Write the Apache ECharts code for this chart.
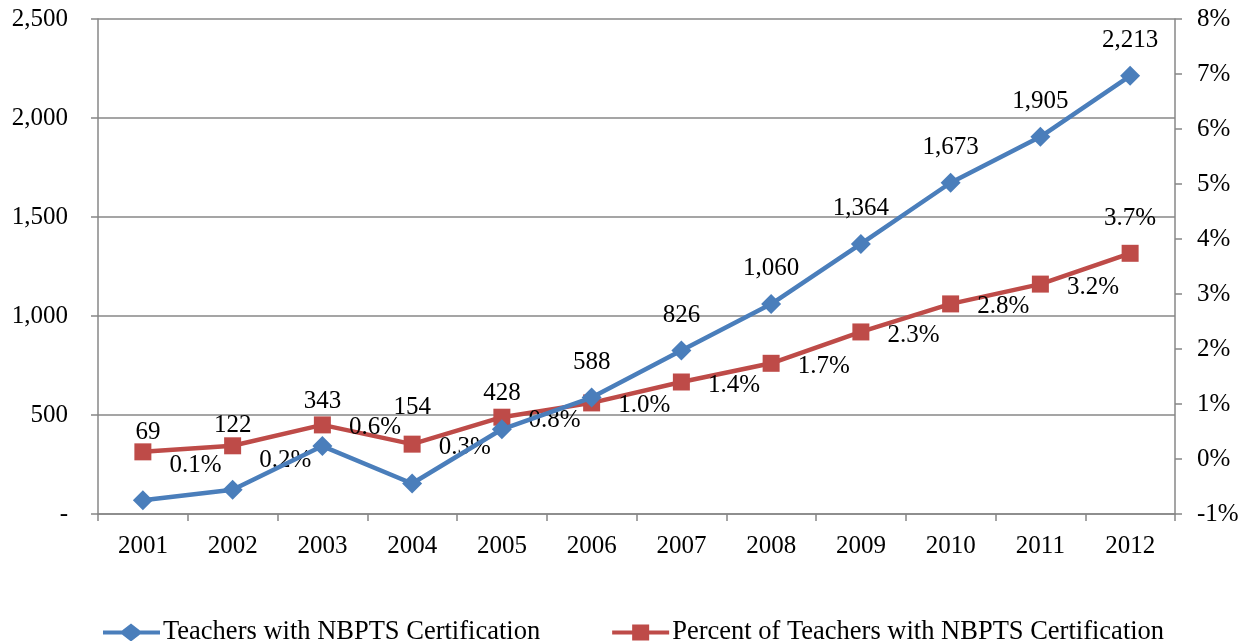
<!DOCTYPE html>
<html>
<head>
<meta charset="utf-8">
<script src="https://cdn.jsdelivr.net/npm/echarts@6/dist/echarts.min.js"></script>
<style>
  html, body { margin: 0; padding: 0; background: #fff; }
  #chart { width: 1249px; height: 641px; }
</style>
</head>
<body>
<div id="chart"></div>
<script>
var years = ['2001', '2002', '2003', '2004', '2005', '2006', '2007', '2008', '2009', '2010', '2011', '2012']
var teachers = [69, 122, 343, 154, 428, 588, 826, 1060, 1364, 1673, 1905, 2213]
var percentTeachers = [0.13, 0.24, 0.62, 0.27, 0.76, 1.02, 1.40, 1.74, 2.31, 2.82, 3.18, 3.74]

var FONT = 'Liberation Serif, Times New Roman, serif'
var BLUE = '#4a7ebb'
var RED = '#be4b48'
var AXIS = '#878787'

// label nudges so the text sits like the original
var blueNudge = { 0: [5, -32], 1: [0, -29], 2: [0, -9], 3: [0, -41] }
var redNudge = { 0: [0, 14], 1: [0, 15] }

// legend icons: thick line with the marker in the middle
var diamondIcon = 'path://M0,7 L19,7 L28,0 L37,7 L57,7 L57,11 L37,11 L28,18 L19,11 L0,11 Z'
var squareIcon = 'path://M0,7 L20,7 L20,1 L37,1 L37,7 L57,7 L57,11 L37,11 L37,17 L20,17 L20,11 L0,11 Z'

function fmtThousands(v) {
  return String(v).replace(/\B(?=(\d{3})+(?!\d))/g, ',')
}

var blueData = teachers.map(function (v, i) {
  var item = { value: v }
  if (blueNudge[i]) item.label = { offset: blueNudge[i] }
  return item
})

var redData = percentTeachers.map(function (v, i) {
  var item = { value: v }
  if (redNudge[i]) item.label = { offset: redNudge[i] }
  if (i === percentTeachers.length - 1) item.label = { position: 'top', distance: 14, offset: [0, 0] }
  return item
})

var chart = echarts.init(document.getElementById('chart'))
chart.setOption({
  animation: false,
  textStyle: { fontFamily: FONT },
  grid: { left: 98, right: 74, top: 19, bottom: 127 },
  legend: {
    left: 98,
    top: 614,
    itemWidth: 57,
    itemHeight: 18,
    itemGap: 72,
    textStyle: { fontFamily: FONT, fontSize: 26.5, color: '#000', padding: [0, 0, 0, -2] },
    data: [
      { name: 'Teachers with NBPTS Certification', icon: diamondIcon, itemStyle: { color: BLUE } },
      { name: 'Percent of Teachers with NBPTS Certification', icon: squareIcon, itemStyle: { color: RED } }
    ]
  },
  xAxis: {
    type: 'category',
    data: years,
    boundaryGap: true,
    axisLine: { lineStyle: { color: AXIS, width: 1.5 } },
    axisTick: { show: true, length: 7, interval: 0, lineStyle: { color: AXIS, width: 1.5 } },
    axisLabel: { fontFamily: FONT, fontSize: 25, color: '#000', margin: 20 }
  },
  yAxis: [
    {
      type: 'value',
      min: 0,
      max: 2500,
      interval: 500,
      position: 'left',
      axisLine: { show: true, lineStyle: { color: AXIS, width: 1.5 } },
      axisTick: { show: true, length: 7, lineStyle: { color: AXIS, width: 1.5 } },
      splitLine: { show: true, lineStyle: { color: AXIS, width: 1.5 } },
      axisLabel: {
        fontFamily: FONT, fontSize: 25, color: '#000', margin: 30,
        formatter: function (v) { return v === 0 ? '-' : fmtThousands(v) }
      }
    },
    {
      type: 'value',
      min: -1,
      max: 8,
      interval: 1,
      position: 'right',
      axisLine: { show: true, lineStyle: { color: AXIS, width: 1.5 } },
      axisTick: { show: true, length: 7, lineStyle: { color: AXIS, width: 1.5 } },
      splitLine: { show: false },
      axisLabel: {
        fontFamily: FONT, fontSize: 25, color: '#000', margin: 22,
        formatter: function (v) { return v + '%' }
      }
    }
  ],
  series: [
    {
      name: 'Teachers with NBPTS Certification',
      type: 'line',
      yAxisIndex: 0,
      data: blueData,
      symbol: 'diamond',
      symbolSize: 20,
      lineStyle: { color: BLUE, width: 4.5 },
      itemStyle: { color: BLUE },
      label: {
        show: true,
        position: 'top',
        distance: 13,
        fontFamily: FONT,
        fontSize: 25,
        color: '#000',
        formatter: function (p) { return fmtThousands(p.value) }
      },
      z: 3
    },
    {
      name: 'Percent of Teachers with NBPTS Certification',
      type: 'line',
      yAxisIndex: 1,
      data: redData,
      symbol: 'rect',
      symbolSize: 17,
      lineStyle: { color: RED, width: 4.5 },
      itemStyle: { color: RED },
      label: {
        show: true,
        position: 'right',
        distance: 18,
        offset: [0, 3],
        fontFamily: FONT,
        fontSize: 25,
        color: '#000',
        formatter: function (p) { return p.value.toFixed(1) + '%' }
      },
      z: 2
    }
  ]
})
</script>
</body>
</html>
